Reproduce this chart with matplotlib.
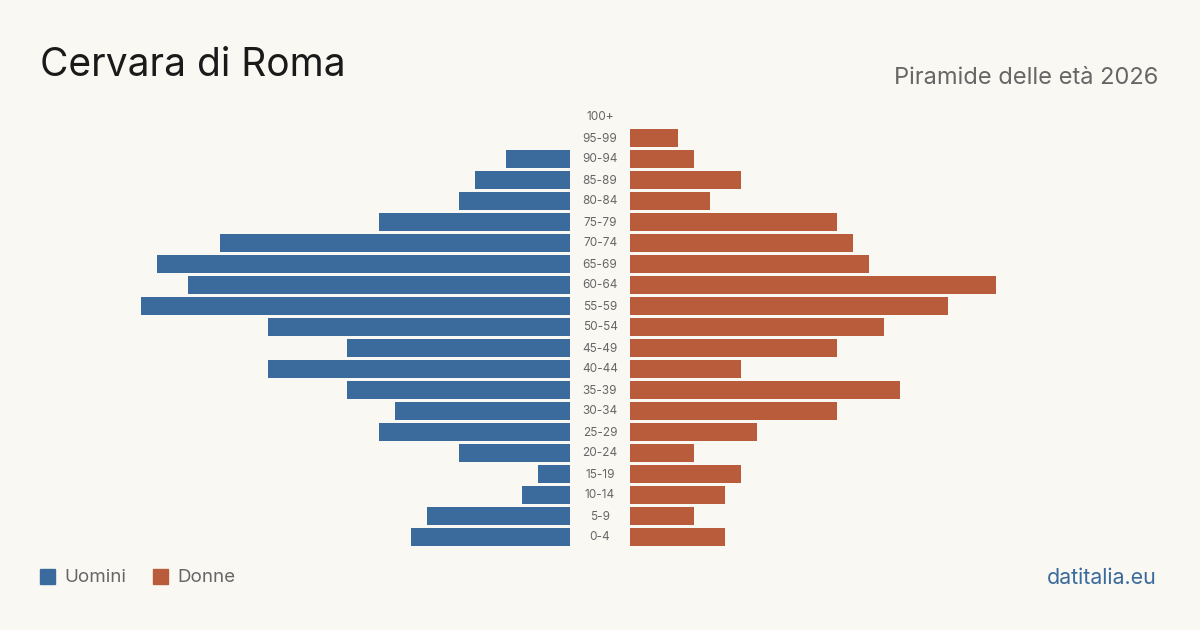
import matplotlib
matplotlib.use("Agg")
import matplotlib.pyplot as plt
from matplotlib.patches import Rectangle

age_groups = ["0-4", "5-9", "10-14", "15-19", "20-24", "25-29", "30-34", "35-39",
              "40-44", "45-49", "50-54", "55-59", "60-64", "65-69", "70-74",
              "75-79", "80-84", "85-89", "90-94", "95-99", "100+"]
men = [10, 9, 3, 2, 7, 12, 11, 14, 19, 14, 19, 27, 24, 26, 22, 12, 7, 6, 4, 0, 0]
women = [6, 4, 6, 7, 4, 8, 13, 17, 7, 13, 16, 20, 23, 15, 14, 13, 5, 7, 4, 3, 0]

BG = "#f9f8f3"
BLUE = "#3b6b9c"
ORANGE = "#b95c3c"
GRAY = "#666666"

plt.rcParams['font.family'] = ['Inter', 'DejaVu Sans']

W, H = 1200, 630
fig = plt.figure(figsize=(12, 6.3), dpi=100, facecolor=BG)

scale = 15.9  # px per unit
left_px0, left_px1 = 40, 570
right_px0, right_px1 = 630, 1160
top_px, bot_px = 106.5, 547.5

def ax_rect(x0, x1):
    return [x0 / W, 1 - bot_px / H, (x1 - x0) / W, (bot_px - top_px) / H]

axL = fig.add_axes(ax_rect(left_px0, left_px1))
axR = fig.add_axes(ax_rect(right_px0, right_px1))
y = list(range(len(age_groups)))
axL.barh(y, men, height=0.82, color=BLUE)
axR.barh(y, women, height=0.82, color=ORANGE)
axL.set_xlim((left_px1 - left_px0) / scale, 0)
axR.set_xlim(0, (right_px1 - right_px0) / scale)
for ax in (axL, axR):
    ax.set_ylim(-0.5, len(age_groups) - 0.5)
    ax.axis("off")
    ax.set_facecolor("none")

# center labels
for i, lab in enumerate(age_groups):
    ypx = bot_px - (i + 0.5) * (bot_px - top_px) / len(age_groups)
    fig.text(600 / W, 1 - (ypx + 0.5) / H, lab, ha="center", va="center",
             fontsize=8.5, color=GRAY)

fig.text(40 / W, 1 - 66 / H, "Cervara di Roma", fontsize=28, color="#1a1a1a",
         ha="left", va="center")
fig.text(1158 / W, 1 - 78 / H, "Piramide delle età 2026", fontsize=17,
         color=GRAY, ha="right", va="center")

# legend
fig.patches.append(Rectangle((40 / W, 1 - 584 / H), 15 / W, 15 / H,
                             transform=fig.transFigure, color=BLUE))
fig.text(64 / W, 1 - 578 / H, "Uomini", fontsize=13.5, color=GRAY,
         ha="left", va="center")
fig.patches.append(Rectangle((153 / W, 1 - 584 / H), 15 / W, 15 / H,
                             transform=fig.transFigure, color=ORANGE))
fig.text(177 / W, 1 - 578 / H, "Donne", fontsize=13.5, color=GRAY,
         ha="left", va="center")
fig.text(1157 / W, 1 - 578 / H, "datitalia.eu", fontsize=15.4, color=BLUE,
         ha="right", va="center")

fig.savefig("out.png", dpi=100, facecolor=BG)
